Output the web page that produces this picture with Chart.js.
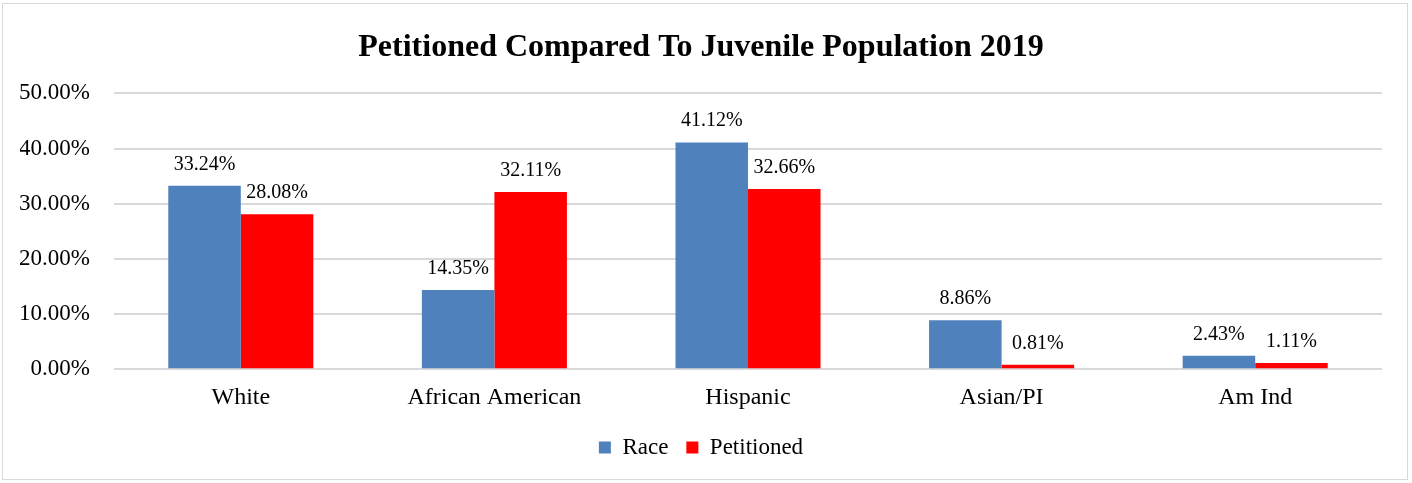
<!DOCTYPE html>
<html>
<head>
<meta charset="utf-8">
<script src="https://cdn.jsdelivr.net/npm/chart.js@4/dist/chart.umd.min.js"></script>
<style>
  html, body { margin: 0; padding: 0; background: #fff; }
  #box {
    position: absolute; left: 2px; top: 3px;
    width: 1404px; height: 475px;
    border: 1px solid #d9d9d9;
  }
  canvas { display: block; }
</style>
</head>
<body>
<div id="box"><canvas id="chart" width="1404" height="475"></canvas></div>
<script>
// chart data
var categories = ["White", "African American", "Hispanic", "Asian/PI", "Am Ind"];
var raceValues = [33.24, 14.35, 41.12, 8.86, 2.43];
var petitionedValues = [28.08, 32.11, 32.66, 0.81, 1.11];
var yTicks = [0, 10, 20, 30, 40, 50];

var serif = "'Liberation Serif', 'Times New Roman', serif";

// draws the percentage above each bar
var barLabels = {
    id: "barLabels",
    afterDatasetsDraw: function (chart) {
        var ctx = chart.ctx;
        ctx.save();
        ctx.font = "20px " + serif;
        ctx.fillStyle = "#000";
        ctx.textAlign = "center";
        ctx.textBaseline = "alphabetic";
        chart.data.datasets.forEach(function (ds, i) {
            chart.getDatasetMeta(i).data.forEach(function (bar, j) {
                ctx.fillText(ds.data[j].toFixed(2) + "%", bar.x, bar.y - 16);
            });
        });
        ctx.restore();
    }
};

new Chart(document.getElementById("chart"), {
    type: "bar",
    data: {
        labels: categories,
        datasets: [
            { label: "Race", data: raceValues, backgroundColor: "#4f81bd" },
            { label: "Petitioned", data: petitionedValues, backgroundColor: "#ff0000" }
        ]
    },
    options: {
        responsive: false,
        animation: false,
        layout: { padding: { left: 17, right: 25, top: 10, bottom: 10 } },
        datasets: { bar: { categoryPercentage: 0.572, barPercentage: 1.0 } },
        plugins: {
            title: {
                display: true,
                text: "Petitioned Compared To Juvenile Population 2019",
                color: "#000",
                font: { family: serif, size: 32, weight: "bold" },
                padding: { top: 15, bottom: 26 }
            },
            legend: {
                position: "bottom",
                labels: {
                    color: "#000",
                    font: { family: serif, size: 23 },
                    boxWidth: 12,
                    boxHeight: 12,
                    padding: 18
                }
            },
            tooltip: { enabled: false }
        },
        scales: {
            x: {
                grid: { display: false },
                border: { display: false },
                ticks: { color: "#000", font: { family: serif, size: 24 }, padding: 6 }
            },
            y: {
                min: yTicks[0],
                max: yTicks[yTicks.length - 1],
                afterBuildTicks: function (axis) {
                    axis.ticks = yTicks.map(function (v) { return { value: v }; });
                },
                afterFit: function (axis) {
                    axis.width = 94;
                },
                grid: { color: "#d9d9d9", lineWidth: 2, drawTicks: false },
                border: { display: false },
                ticks: {
                    color: "#000",
                    font: { family: serif, size: 23 },
                    padding: 24,
                    callback: function (v) { return v.toFixed(2) + "%"; }
                }
            }
        }
    },
    plugins: [barLabels]
});
</script>
</body>
</html>
